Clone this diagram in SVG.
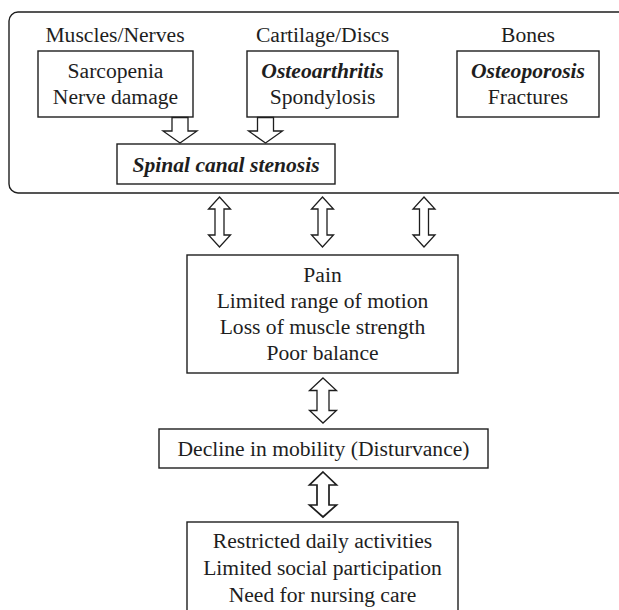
<svg xmlns="http://www.w3.org/2000/svg" width="619" height="610" viewBox="0 0 619 610">
<style>
.box{fill:#fff;stroke:#1e1e1e;stroke-width:1.4}
.arr{fill:#fff;stroke:#1e1e1e;stroke-width:1.3;stroke-linejoin:miter}
.arrb{fill:#fff;stroke:#1e1e1e;stroke-width:1.7;stroke-linejoin:miter}
text{font-family:"Liberation Serif","Times New Roman",serif;font-size:21.6px;fill:#1e1e1e;text-anchor:middle}
.bi{font-weight:bold;font-style:italic}
</style>
<rect width="619" height="610" fill="#fff"/>
<g id="group-top">
<rect class="box" x="9" y="12" width="620" height="181" rx="9"/>
</g>
<g id="title-muscles"><text x="115" y="42">Muscles/Nerves</text></g>
<g id="title-cartilage"><text x="322.5" y="42">Cartilage/Discs</text></g>
<g id="title-bones"><text x="528" y="42">Bones</text></g>
<g id="node-muscles">
<rect class="box" x="38" y="51" width="155" height="66"/>
<text x="115.5" y="78">Sarcopenia</text>
<text x="115.5" y="104">Nerve damage</text>
</g>
<g id="node-cartilage">
<rect class="box" x="247" y="51" width="151" height="66"/>
<text x="322.5" y="78" class="bi">Osteoarthritis</text>
<text x="322.5" y="104">Spondylosis</text>
</g>
<g id="node-bones">
<rect class="box" x="457" y="51" width="142" height="66"/>
<text x="528" y="78" class="bi">Osteoporosis</text>
<text x="528" y="104">Fractures</text>
</g>
<g id="node-stenosis">
<rect class="box" x="117" y="144" width="218" height="40"/>
<text x="226" y="172" class="bi">Spinal canal stenosis</text>
</g>
<g id="node-symptoms">
<rect class="box" x="187" y="255" width="271" height="118"/>
<text x="322.5" y="282">Pain</text>
<text x="322.5" y="308">Limited range of motion</text>
<text x="322.5" y="334">Loss of muscle strength</text>
<text x="322.5" y="360">Poor balance</text>
</g>
<g id="node-decline">
<rect class="box" x="159" y="429" width="329" height="39"/>
<text x="323.5" y="456">Decline in mobility (Disturvance)</text>
</g>
<g id="node-outcomes">
<rect class="box" x="187" y="522" width="271" height="110"/>
<text x="322.5" y="548">Restricted daily activities</text>
<text x="322.5" y="575">Limited social participation</text>
<text x="322.5" y="602">Need for nursing care</text>
</g>
<g id="connectors">
<path class="arr" d="M172,117.5 L188,117.5 L188,131 L197,131 L180,143 L163,131 L172,131 Z"/>
<path class="arr" d="M257.5,117.5 L273.5,117.5 L273.5,131 L282.5,131 L265.5,143 L248.5,131 L257.5,131 Z"/>
<path class="arr" d="M219.5,197 L230.5,209 L224,209 L224,235 L230.5,235 L219.5,247 L208.5,235 L215,235 L215,209 L208.5,209 Z"/>
<path class="arr" d="M322.5,197 L333.5,209 L327,209 L327,235 L333.5,235 L322.5,247 L311.5,235 L318,235 L318,209 L311.5,209 Z"/>
<path class="arr" d="M424,197 L435,209 L428.5,209 L428.5,235 L435,235 L424,247 L413,235 L419.5,235 L419.5,209 L413,209 Z"/>
<path class="arr" d="M323,378 L336.5,390.5 L329,390.5 L329,410.5 L336.5,410.5 L323,423 L309.5,410.5 L317,410.5 L317,390.5 L309.5,390.5 Z"/>
<path class="arrb" d="M323,472 L336.5,485 L329,485 L329,505 L336.5,505 L323,517 L309.5,505 L317,505 L317,485 L309.5,485 Z"/>
</g>
</svg>
